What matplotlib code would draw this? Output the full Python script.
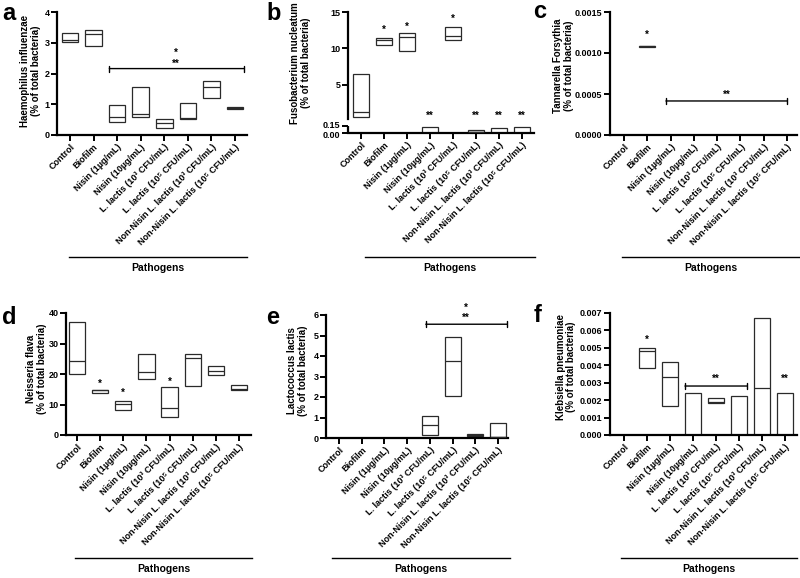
import numpy as np
import matplotlib
matplotlib.use('Agg')
import matplotlib.pyplot as plt
import matplotlib.transforms as mtransforms
from matplotlib.lines import Line2D

plt.rcParams['font.family'] = ['Liberation Sans', 'DejaVu Sans']
plt.rcParams['font.weight'] = 'bold'
plt.rcParams['axes.labelweight'] = 'bold'

# Groups on the x axis (same for every panel)
groups = ['Control', 'Biofilm', 'Nisin (1µg/mL)', 'Nisin (10µg/mL)',
          'L. lactis (10³ CFU/mL)', 'L. lactis (10⁵ CFU/mL)',
          'Non-Nisin L. lactis (10³ CFU/mL)', 'Non-Nisin L. lactis (10⁵ CFU/mL)']
nan = np.nan

# a - Haemophilus influenzae (min / median / max)
a_low = [3.04, 2.91, 0.42, 0.57, 0.23, 0.51, 1.20, 0.83]
a_med = [3.08, 3.28, 0.59, 0.68, 0.39, 0.55, 1.57, 0.88]
a_high = [3.33, 3.43, 0.96, 1.55, 0.51, 1.04, 1.75, 0.92]

# b - Fusobacterium nucleatum
b_low = [0.58, 10.5, 9.66, 0.0, 11.16, 0.015, 0.0, 0.0]
b_med = [1.26, 11.1, 11.6, 0.0, 11.7, 0.03, 0.0, 0.0]
b_high = [6.5, 11.45, 12.16, 0.12, 12.95, 0.064, 0.115, 0.13]

# c - Tannarella Forsythia
c_low = [nan, 0.00107, nan, nan, nan, nan, nan, nan]
c_med = [nan, 0.00108, nan, nan, nan, nan, nan, nan]
c_high = [nan, 0.00109, nan, nan, nan, nan, nan, nan]

# d - Neisseria flava
d_low = [20.0, 13.7, 8.2, 18.3, 5.8, 16.1, 19.6, 14.9]
d_med = [24.2, 14.6, 10.1, 20.7, 8.7, 25.1, 21.0, 15.0]
d_high = [37.1, 14.8, 11.3, 26.5, 15.6, 26.4, 22.7, 16.5]

# e - Lactococcus lactis
e_low = [nan, nan, nan, nan, 0.15, 2.03, 0.08, 0.05]
e_med = [nan, nan, nan, nan, 0.62, 3.76, 0.13, 0.05]
e_high = [nan, nan, nan, nan, 1.05, 4.91, 0.18, 0.73]

# f - Klebsiella pneumoniae
f_low = [nan, 0.00384, 0.00169, 0.0, 0.00186, 0.0, 0.0, 0.0]
f_med = [nan, 0.0048, 0.0033, 0.0, 0.00188, 0.0, 0.00269, 0.0]
f_high = [nan, 0.00499, 0.00418, 0.0024, 0.00211, 0.00226, 0.0067, 0.0024]

# significance marks (x index, y value, text)
a_stars = [(4.5, 2.33, '**'), (4.5, 2.66, '*')]
b_stars = [(1, 12.5, '*'), (2, 12.97, '*'), (4, 14.0, '*'),
           (3, 0.75, '**'), (5, 0.75, '**'), (6, 0.75, '**'), (7, 0.75, '**')]
c_stars = [(1, 0.00122, '*'), (4.4, 0.00049, '**')]
d_stars = [(1, 16.7, '*'), (2, 13.8, '*'), (4, 17.4, '*')]
e_stars = [(5.6, 5.84, '**'), (5.6, 6.33, '*')]
f_stars = [(1, 0.00545, '*'), (4, 0.00321, '**'), (7, 0.00321, '**')]

# brackets (x start, x end, y)
a_brk = (1.67, 7.38, 2.16)
c_brk = (1.8, 7.0, 0.000415)
e_brk = (3.82, 7.4, 5.55)
f_brk = (2.65, 5.35, 0.00281)

W, H = 800, 578
fig = plt.figure(figsize=(W / 100, H / 100), dpi=100)
box_col = '#2a2a2a'


def make_axes(left, right, top, bottom, x0, x7):
    ax = fig.add_axes([left / W, 1 - bottom / H, (right - left) / W, (bottom - top) / H])
    sp = (x7 - x0) / 7
    ax.set_xlim((left - x0) / sp, (right - x0) / sp)
    for s in ['top', 'right']:
        ax.spines[s].set_visible(False)
    for s in ['left', 'bottom']:
        ax.spines[s].set_linewidth(1.6)
    ax.tick_params(direction='out', length=4, width=1.4, labelsize=6.5, pad=1.5)
    ax.set_xticks(range(len(groups)))
    ax.set_xticklabels(groups, rotation=45, ha='right', rotation_mode='anchor',
                       fontweight='bold')
    ax.patch.set_alpha(0)
    return ax


def draw_boxes(ax, low, med, high):
    x = np.arange(len(groups))
    low, med, high = np.array(low), np.array(med), np.array(high)
    ok = ~np.isnan(high)
    ax.bar(x[ok], high[ok] - low[ok], bottom=low[ok], width=0.7, color='white',
           edgecolor=box_col, linewidth=0.9, zorder=2)
    ax.hlines(med[ok], x[ok] - 0.35, x[ok] + 0.35, color=box_col, lw=0.9, zorder=3)


def stars(ax, marks):
    for x, y, t in marks:
        ax.text(x, y, t, ha='center', va='center', fontsize=7, fontweight='bold',
                clip_on=False)


def bracket(ax, b):
    ax.annotate('', xy=(b[0], b[2]), xytext=(b[1], b[2]),
                arrowprops=dict(arrowstyle='|-|, widthA=0.22, widthB=0.22',
                                lw=1.0, color='black', shrinkA=0, shrinkB=0),
                annotation_clip=False)


def finish(ax, label, lx, ly, letter, letter_xy, path_x0, path_x1, path_y):
    ax.set_ylabel(label, fontsize=7, linespacing=1.05)
    ax.yaxis.set_label_coords(lx, ly)
    fig.text(letter_xy[0] / W, 1 - letter_xy[1] / H, letter, fontsize=17,
             fontweight='bold', ha='left', va='center')
    fig.add_artist(Line2D([path_x0 / W, path_x1 / W], [1 - path_y / H] * 2,
                          color='black', lw=1.0))
    fig.text((path_x0 + path_x1) / 2 / W, 1 - (path_y + 11) / H, 'Pathogens',
             fontsize=7.5, fontweight='bold', ha='center', va='center')


# ---- a
ax = make_axes(57, 247, 12, 135, 70, 235)
draw_boxes(ax, a_low, a_med, a_high)
ax.set_ylim(0, 4)
ax.set_yticks([0, 1, 2, 3, 4])
bracket(ax, a_brk)
stars(ax, a_stars)
finish(ax, 'Haemophilus influenzae\n(% of total bacteria)', -0.085, 0.52,
       'a', (2, 13), 69, 247, 257)

# ---- b (segmented y axis)
bp_val = [0, 0.15, 0.34, 15]
bp_pos = [0, 7, 14, 121]
ax = make_axes(348, 534, 12, 133, 361, 522)
ax.set_yscale('function', functions=(lambda y: np.interp(y, bp_val, bp_pos),
                                     lambda p: np.interp(p, bp_pos, bp_val)))
draw_boxes(ax, b_low, b_med, b_high)
ax.set_ylim(0, 15)
ax.set_yticks([0, 0.15, 5, 10, 15])
ax.set_yticklabels(['0.00', '0.15', '5', '10', '15'])
ax.yaxis.set_minor_locator(matplotlib.ticker.NullLocator())
# nudge the two crowded labels of the lower segment apart a little
nudge = {'0.15': 2, '0.00': -1}
for lab in ax.get_yticklabels():
    d = nudge.get(lab.get_text(), 0)
    if d:
        lab.set_transform(lab.get_transform() +
                          mtransforms.ScaledTranslation(0, d / 100, fig.dpi_scale_trans))
ax.spines['left'].set_bounds(0.34, 15)
ax.plot([0, 0], [0, 0.15], color='black', lw=1.6, transform=ax.get_yaxis_transform(),
        clip_on=False, solid_capstyle='butt')
stars(ax, b_stars)
finish(ax, 'Fusobacterium nucleatum\n(% of total bacteria)', -0.2, 0.58,
       'b', (266, 13), 365, 535, 257)

# ---- c
ax = make_axes(610, 797, 12, 135, 624, 787)
draw_boxes(ax, c_low, c_med, c_high)
ax.set_ylim(0, 0.0015)
ax.set_yticks([0, 0.0005, 0.0010, 0.0015])
ax.set_yticklabels(['0.0000', '0.0005', '0.0010', '0.0015'])
bracket(ax, c_brk)
stars(ax, c_stars)
finish(ax, 'Tannarella Forsythia\n(% of total bacteria)', -0.195, 0.56,
       'c', (533, 11), 622, 800, 257)

# ---- d
ax = make_axes(66, 251, 313, 435, 77, 239)
draw_boxes(ax, d_low, d_med, d_high)
ax.set_ylim(0, 40)
ax.set_yticks([0, 10, 20, 30, 40])
stars(ax, d_stars)
finish(ax, 'Neisseria flava\n(% of total bacteria)', -0.105, 0.54,
       'd', (2, 317), 75, 252, 558)

# ---- e
ax = make_axes(326, 508, 315, 438, 339, 498)
draw_boxes(ax, e_low, e_med, e_high)
ax.set_ylim(0, 6)
ax.set_yticks([0, 1, 2, 3, 4, 5, 6])
bracket(ax, e_brk)
stars(ax, e_stars)
finish(ax, 'Lactococcus lactis\n(% of total bacteria)', -0.1, 0.55,
       'e', (266, 317), 332, 510, 558)

# ---- f
ax = make_axes(610, 797, 313, 435, 624, 785)
draw_boxes(ax, f_low, f_med, f_high)
ax.set_ylim(0, 0.007)
ax.set_yticks(np.arange(0, 0.0071, 0.001))
ax.set_yticklabels(['%.3f' % v for v in np.arange(0, 0.0071, 0.001)])
bracket(ax, f_brk)
stars(ax, f_stars)
finish(ax, 'Klebsiella pneumoniae\n(% of total bacteria)', -0.18, 0.56,
       'f', (534, 315), 621, 797, 558)

fig.savefig('out.png', dpi=100)
